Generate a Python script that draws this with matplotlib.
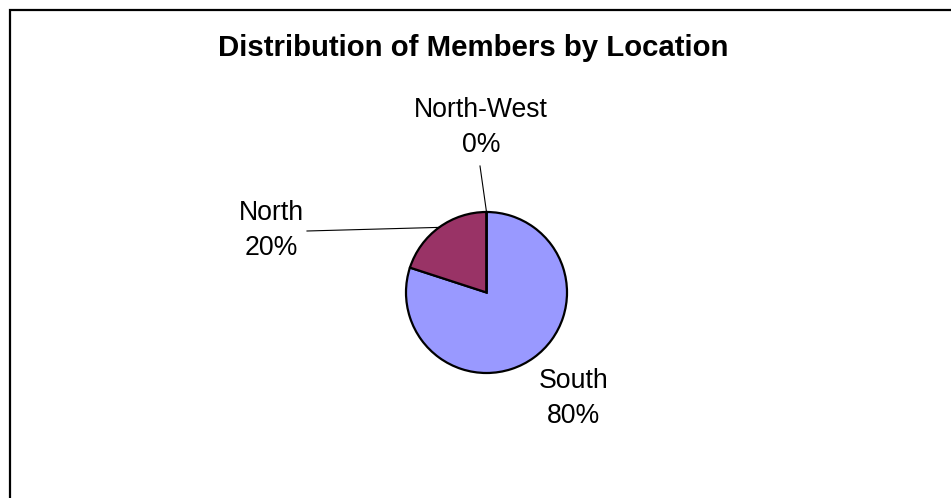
import numpy as np
import matplotlib
matplotlib.use("Agg")
import matplotlib.pyplot as plt
from matplotlib.patches import Rectangle

# data
locations = ["South", "North", "North-West"]
members = [80, 20, 0]
colors = ["#9999FF", "#993366", "#FFFFCC"]
title = "Distribution of Members by Location"

W, H = 951, 498
plt.rcParams["font.family"] = ["Liberation Sans", "DejaVu Sans"]

fig = plt.figure(figsize=(W / 100, H / 100), dpi=100)
ax = fig.add_axes([0, 0, 1, 1])

# pie placed in pixel-like coordinates (y up)
cx, cy, r = 486.5, H - 292.5, 80.5
wedges, _ = ax.pie(members, colors=colors, startangle=90, counterclock=False,
                   center=(cx, cy), radius=r,
                   wedgeprops=dict(edgecolor="black", linewidth=1.6))
ax.set_xlim(0, W)
ax.set_ylim(0, H)
ax.set_aspect("equal")
ax.axis("off")

# label positions (text centre) and leader start points, in pixels from top-left
label_pos = {"South": (574, 398.5), "North": (271, 230.5), "North-West": (481, 127)}
leader_start = {"North": (307, 231), "North-West": (480, 166)}

total = sum(members)
for w, name, v in zip(wedges, locations, members):
    px, py = label_pos[name]
    ax.text(px, H - py, f"{name}\n{v / total * 100:.0f}%", ha="center", va="center",
            fontsize=19.2, linespacing=1.45)
    if name in leader_start:
        mid = np.deg2rad((w.theta1 + w.theta2) / 2)
        ex, ey = cx + r * np.cos(mid), cy + r * np.sin(mid)
        sx, sy = leader_start[name]
        ax.plot([sx, ex], [H - sy, ey], color="black", linewidth=0.8)

ax.text(473, H - 48, title, ha="center", va="center", fontsize=21.2, fontweight="bold")

# chart border (runs off the right and bottom edges)
ax.add_patch(Rectangle((9.5, -20), W + 40, H - 9.5 + 20, fill=False,
                       edgecolor="black", linewidth=1.6, clip_on=False))

fig.savefig("out.png", dpi=100)
